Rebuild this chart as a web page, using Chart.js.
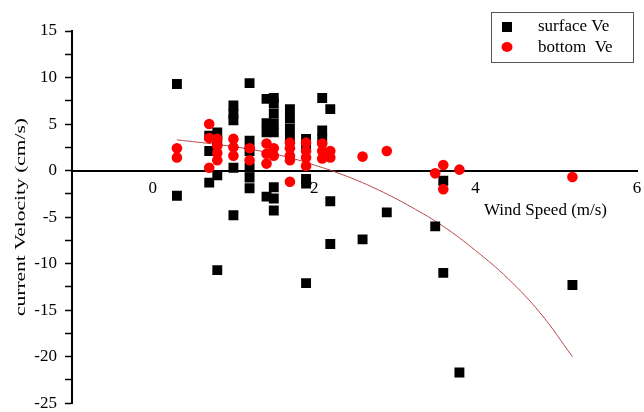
<!DOCTYPE html>
<html>
<head>
<meta charset="utf-8">
<script src="https://cdn.jsdelivr.net/npm/chart.js@4"></script>
<style>
  html, body { margin:0; padding:0; background:#fff; }
  #wrap { width:644px; height:412px; position:relative; }
</style>
</head>
<body>
<div id="wrap"><canvas id="c"></canvas></div>
<script>
// values
const surfaceLabel = 'surface Ve';
const surfaceX = [0.3,0.3, 0.7,0.7,0.7, 0.8,0.8,0.8,0.8, 1.0,1.0,1.0,1.0,1.0, 1.2,1.2,1.2,1.2,1.2,1.2,
  1.41,1.41,1.41,1.41, 1.5,1.5,1.5,1.5,1.5,1.5,1.5,1.5, 1.7,1.7,1.7,1.7, 1.9,1.9,1.9,1.9,1.9,
  2.1,2.1,2.1, 2.2,2.2,2.2, 2.6, 2.9, 3.5, 3.6,3.6, 3.8, 5.2];
const surfaceY = [9.3,-2.7, 3.75,2.1,-1.3, 4.1,3.2,-0.5,-10.7, 7.0,6.1,5.4,0.3,-4.8, 9.4,3.2,2.1,0.3,-0.75,-1.9,
  7.7,5.1,4.1,-2.8, 7.8,7.2,6.1,5.0,4.1,-1.8,-3.0,-4.3, 6.6,5.6,4.5,3.5, 3.4,2.7,-0.9,-1.4,-12.1,
  7.8,4.3,3.4, 6.6,-3.3,-7.9, -7.4, -4.5, -6.0, -1.1,-11.0, -21.7, -12.3];

const bottomLabel = 'bottom  Ve';
const bottomX = [0.3,0.3, 0.7,0.7,0.7, 0.8,0.8,0.8,0.8, 1.0,1.0,1.0, 1.2,1.2, 1.41,1.41,1.41, 1.5,1.5,
  1.7,1.7,1.7,1.7,1.7, 1.9,1.9,1.9,1.9, 2.1,2.1,2.1, 2.2,2.2, 2.6, 2.9, 3.5, 3.6,3.6, 3.8, 5.2];
const bottomY = [2.4,1.4, 5.0,3.5,0.3, 3.4,2.7,1.9,1.1, 3.4,2.5,1.6, 2.4,1.1, 2.9,1.8,0.75, 2.4,1.6,
  3.0,2.4,1.6,1.1,-1.2, 3.0,2.1,1.4,0.5, 2.9,2.1,1.3, 2.1,1.4, 1.5, 2.1, -0.3, 0.6,-2.0, 0.1, -0.7];

// fitted curve, traced point by point
const fitX = [0.3, 0.8, 1.2, 1.6, 2.0, 2.4, 2.8, 3.2, 3.6, 4.0, 4.4, 4.8, 5.2];
const fitY = [3.3, 2.8, 2.3, 1.6, 0.6, -0.6, -2.1, -3.9, -6.0, -8.6, -11.6, -15.3, -20.0];

const yTicks = [-25,-20,-15,-10,-5,0,5,10,15];
const xTickLabels = [0,2,4,6];

const xTitle = 'Wind Speed (m/s)';
const yTitle = 'current Velocity (cm/s)';

const SERIF = "'Liberation Serif', 'Times New Roman', serif";

function pts(xs, ys){ return xs.map((x,i) => ({x, y: ys[i]})); }

// draws the boxed legend and both axis titles like the original plot
const overlay = {
  id: 'overlay',
  afterDraw(chart){
    const ctx = chart.ctx;
    ctx.save();
    ctx.font = `17px ${SERIF}`;
    ctx.fillStyle = '#000';
    ctx.textBaseline = 'middle';
    ctx.textAlign = 'left';
    ctx.fillText(xTitle, 484, 211);

    // y title, stretched along its baseline as in the source image
    ctx.save();
    ctx.font = `15px ${SERIF}`;
    ctx.translate(21, 217);
    ctx.rotate(-Math.PI/2);
    const w = ctx.measureText(yTitle).width;
    ctx.scale(198 / w, 1);
    ctx.textAlign = 'center';
    ctx.fillText(yTitle, 0, 0);
    ctx.restore();

    // legend box
    ctx.strokeStyle = '#555';
    ctx.lineWidth = 1;
    ctx.strokeRect(491.5, 12.5, 142, 50);
    ctx.fillStyle = '#000';
    ctx.fillRect(502, 22, 10, 10);
    ctx.fillStyle = '#ff0000';
    ctx.beginPath();
    ctx.ellipse(507, 47, 5.5, 5, 0, 0, Math.PI*2);
    ctx.fill();
    ctx.fillStyle = '#000';
    ctx.fillText(surfaceLabel, 538, 27);
    ctx.fillText(bottomLabel, 538, 48);
    ctx.restore();
  }
};

new Chart(document.getElementById('c'), {
  type: 'scatter',
  data: {
    datasets: [
      {
        label: 'fit',
        type: 'line',
        data: pts(fitX, fitY),
        borderColor: '#b8484a',
        borderWidth: 1,
        pointRadius: 0,
        tension: 0.4,
        fill: false,
        order: 3
      },
      {
        label: surfaceLabel,
        data: pts(surfaceX, surfaceY),
        pointStyle: 'rect',
        pointRadius: 7,
        backgroundColor: '#000',
        borderColor: '#000',
        borderWidth: 0,
        order: 2
      },
      {
        label: bottomLabel,
        data: pts(bottomX, bottomY),
        pointStyle: 'circle',
        pointRadius: 5.3,
        backgroundColor: '#ff0000',
        borderColor: '#ff0000',
        borderWidth: 0,
        order: 1
      }
    ]
  },
  options: {
    responsive: true,
    maintainAspectRatio: false,
    animation: false,
    layout: { padding: { top: 31, right: 3, bottom: 0, left: 0 } },
    plugins: { legend: { display: false }, tooltip: { enabled: false } },
    scales: {
      x: {
        type: 'linear',
        min: -1, max: 6,
        position: { y: 0 },
        border: { display: true, color: '#000', width: 2 },
        grid: { display: false, drawOnChartArea: false, drawTicks: true, tickLength: 6, tickColor: '#000', tickWidth: 1.5 },
        ticks: {
          stepSize: 1,
          padding: 2,
          color: '#000',
          font: { family: SERIF, size: 17 },
          callback: v => xTickLabels.includes(v) ? String(v) : ''
        },
        afterFit: s => { s.height = 0; }
      },
      y: {
        type: 'linear',
        min: -25, max: 15,
        border: { display: true, color: '#000', width: 2 },
        grid: { drawOnChartArea: false, drawTicks: true, tickLength: 7, tickColor: '#000', tickWidth: 1.5 },
        ticks: {
          stepSize: 2.5,
          padding: 8,
          color: '#000',
          font: { family: SERIF, size: 17, lineHeight: 0.1 },
          callback: v => yTicks.includes(v) ? String(v) : ''
        },
        afterFit: s => { s.width = 72; }
      }
    }
  },
  plugins: [overlay]
});
</script>
</body>
</html>
